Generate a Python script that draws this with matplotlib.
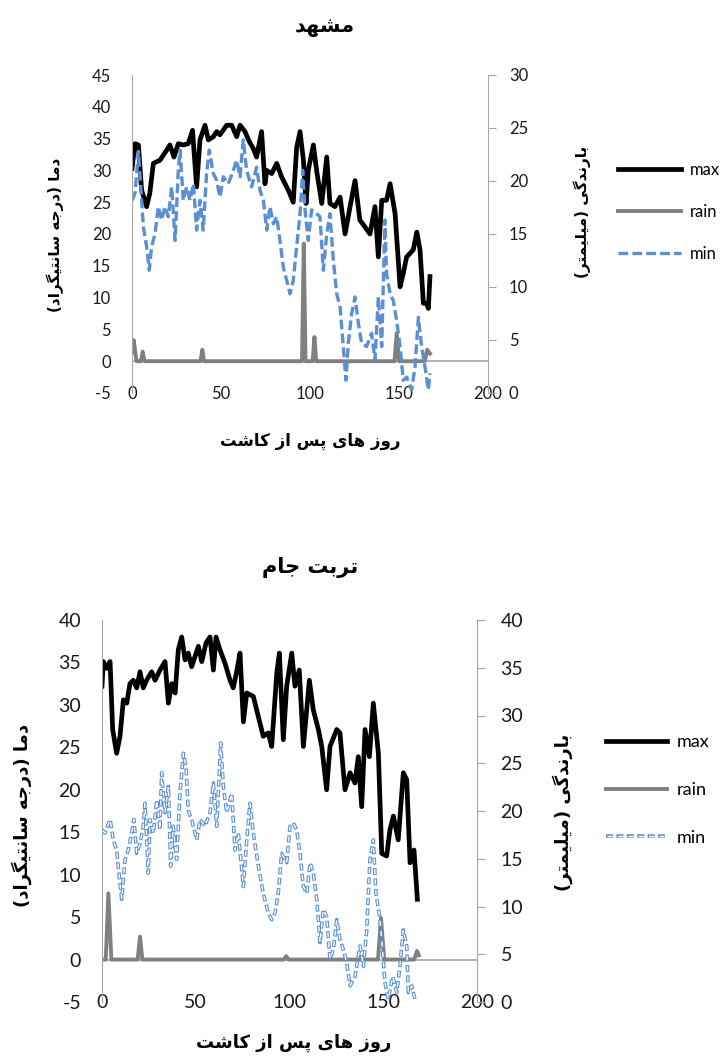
import matplotlib.pyplot as plt
from matplotlib.legend_handler import HandlerTuple

plt.rcParams['lines.scale_dashes'] = False
plt.rcParams['axes.unicode_minus'] = False

# ---- data ----
# Mashhad
mashhad_max_day = [0, 1.7, 3.6, 5.4, 8.2, 10, 12, 15.7, 19.5, 21.3, 23.6, 26, 28.8, 31.6, 34, 36.3, 38.2, 41,
                   42.9, 45.7, 47.6, 49.4, 53.2, 56, 58.8, 60.7, 63.5, 65.4, 68.2, 70, 72.8, 74.7, 75.7, 78.5,
                   81.3, 84, 87.8, 90.6, 92.5, 94.4, 96.3, 97.8, 99, 101.9, 103.7, 106.6, 109.4, 111.2, 114,
                   116.9, 119.7, 122.5, 125.3, 128, 130.9, 133.7, 136.5, 138.4, 140.3, 143, 145, 147.8, 150.6,
                   152.4, 154.3, 158, 160, 161.8, 163.7, 165.5, 166.5, 167.4]
mashhad_max = [30.3, 34.2, 34, 26.9, 24.3, 26.4, 31.1, 31.6, 33.2, 34, 32.1, 34.2, 34, 34.2, 36.3, 27.4, 34.8, 37.1,
               34.8, 35.3, 36.1, 35.6, 37.1, 37.1, 35.3, 37.1, 36.1, 34.8, 33.4, 32.1, 36.1, 27.9, 30, 29.5,
               31.1, 29, 26.9, 25, 33.6, 36.1, 31.6, 24.8, 30, 34, 30, 24.8, 32.1, 24.8, 24.3,
               25.8, 20, 24.3, 28.4, 22.2, 21.1, 20, 24.3, 16.4, 25.3, 25.3, 27.9, 23.2, 11.7,
               13.8, 16.4, 17.5, 20.3, 17.5, 9.1, 9.1, 8.3, 13.3]
mashhad_min_day = [0, 1.7, 3.6, 5.4, 6.4, 8.2, 9.7, 11, 12.9, 14.8, 16.7, 18.5, 20.4, 22.3, 24.2, 26, 27, 28.8,
                   30.7, 32.6, 34.5, 36.3, 38.2, 40, 41.9, 43.4, 45.7, 47.6, 49.4, 51.3, 54.1, 56.9, 58.8, 60.7,
                   62.5, 64.4, 67.2, 70, 71.9, 73.8, 75.7, 77.5, 79.4, 81.3, 83.1, 85, 86.9, 88.8, 90.6, 92.5,
                   94.4, 95.9, 97.2, 99, 100.9, 103.7, 105.6, 107.5, 109.4, 111.2, 113.1, 115, 116.9, 118.7,
                   120.2, 121.5, 123.4, 125.3, 127.2, 129, 131.8, 134.6, 136.5, 138.4, 140.3, 142.1, 143, 145,
                   146.8, 148.7, 150.6, 152.4, 154.3, 157.1, 159, 160.9, 162.7, 164.6, 166.5, 167.4]
mashhad_min = [25.3, 26.4, 33.0, 25.3, 21.1, 18, 14.3, 18, 20, 24.3, 22.2, 24.3, 22.7, 27.4, 19, 30, 33.2, 25.3,
               27.4, 25.3, 27.9, 20.6, 25.3, 20.6, 29.5, 33.2, 29.5, 28.4, 25.8, 29, 27.9, 30, 31.6, 29,
               34.8, 30, 27.4, 30.5, 26.9, 25.3, 20.6, 24.3, 21.6, 22.7, 19, 14.8, 12.7, 10.6, 12.7, 18,
               23.2, 30, 23.8, 19, 23.8, 23.2, 22.7, 14.3, 20, 23.2, 15.9, 10.6, 8.5, 2.3,
               -3, 2.8, 7.5, 10.1, 5.9, 2.8, 2.3, 4.4, 0.2, 10.1, 2.3, 22.2, 13.8, 10.6,
               9.5, 6.4, 2.3, -3, -2.5, -4.5, -0.9, 6.9, 2.3, -0.9, -4.5, -1.9]
mashhad_rain_day = [0, 1, 2.5, 5, 6, 7, 38.5, 39.5, 40.5, 95.5, 96.5, 97.5, 101.5, 102.5, 103.5,
                    147.5, 148.7, 150, 164.5, 165.8, 167.4]
mashhad_rain = [1.5, 3.3, 0, 0, 1.5, 0, 0, 1.8, 0, 0, 18.5, 0, 0, 3.8, 0,
                0, 4.4, 0, 0, 1.8, 1.2]

# Torbat-e Jam
torbat_max_day = [0, 0.7, 2.5, 4.3, 5.7, 7.8, 9.6, 11.4, 13.2, 14.9, 16.7, 18.5, 20.3, 22, 23.8, 26.5, 28.3,
                  30.9, 33.6, 35.4, 37.2, 39, 40.7, 42.5, 44.3, 46, 47.8, 49.6, 51.4, 53.2, 55.5, 57.6, 59.4,
                  60.8, 62.9, 65.6, 68.3, 70, 71.8, 73.6, 75.4, 77.2, 80.7, 83.4, 86, 88.7, 90.5, 93.2, 94.6,
                  96.7, 98.5, 101.2, 102.9, 105.2, 107.4, 110.6, 112.7, 115.4, 117.2, 119.8, 121.6, 125.2,
                  126.9, 129.6, 132.3, 134.9, 136.7, 138.5, 140.3, 142.6, 144.7, 147.4, 149.2, 151.8, 153.6,
                  155.4, 158, 160.7, 162.5, 164.3, 166.4, 168.2]
torbat_max = [32.2, 35.1, 34.3, 35.1, 27.1, 24.3, 26.3, 30.6, 30.2, 32.5, 32.9, 32, 33.9, 32, 32.9, 33.9, 32.9,
              34.1, 35.1, 30.2, 32.5, 31.4, 36.5, 38, 35.3, 36.1, 34.5, 35.7, 36.9, 35.1, 37.3, 38, 34.1,
              38, 36.5, 34.9, 32.9, 32, 33.9, 36.1, 28, 31.4, 31, 28.6, 26.3, 26.7, 25.1, 33.7, 36.1,
              25.9, 32.2, 36.1, 32.2, 34.1, 25.1, 32.9, 29.4, 27.1, 25.1, 20, 25.1, 27.1,
              26.7, 20, 22, 20.8, 23.9, 18, 27.1, 23.9, 30.2, 24.3, 12.5, 12.2, 15.3,
              16.9, 14.1, 22, 21.2, 11.4, 12.9, 7.1]
torbat_min_day = [0, 1.6, 4.3, 6, 7.8, 9.2, 10.5, 12.3, 14, 15.8, 17, 18.5, 20.3, 22, 22.9, 24.7, 25.6, 27.4,
                  29.2, 30.9, 31.8, 33.6, 35.4, 36.6, 38, 39.8, 41.6, 43.4, 44.8, 46, 47.8, 50.5, 52.3, 54.9,
                  57.6, 59.4, 61.2, 63.3, 64.7, 66.5, 69.2, 70.9, 72.7, 75.4, 77.2, 78.9, 80.7, 83.4, 86,
                  88.7, 90.5, 92.3, 94, 95.8, 98.5, 100.3, 102, 103.8, 105.6, 107.4, 109.2, 111, 112.7, 114.5,
                  116.3, 118, 119.8, 121.6, 123.4, 125.2, 126.9, 128.7, 130.5, 132.3, 134.9, 137.6, 139.4,
                  141.2, 142.9, 144.7, 146.1, 148.3, 150, 150.9, 152.7, 155, 157.2, 158.9, 160.7, 162.5,
                  163.4, 165.2, 166.9]
torbat_min = [15.3, 14.9, 16.5, 14.1, 12.9, 9.8, 7.1, 11.8, 12.9, 14.9, 16.5, 12.5, 13.7, 15.7, 18.4, 10.2, 16.5,
              14.9, 18.8, 15.3, 22, 17.3, 20.4, 11, 15.7, 11.8, 19.6, 24.3, 22.7, 17.6, 16.5, 14.1, 16.5,
              15.7, 17.3, 20.8, 15.7, 25.5, 20.4, 17.3, 19.6, 12.9, 14.9, 8.6, 14.1, 18.4, 14.9, 11, 7.8,
              5.5, 4.7, 5.5, 7.8, 12.5, 11.4, 15.7, 16.1, 15.3, 12.5, 8.6, 7.8, 11.4, 10.2, 7.1,
              2, 5.9, 5.1, 0, 1.2, 4.7, 2.4, 1.2, -0.4, -3.1, -2, 1.6, -0.8,
              3.5, 11.8, 14.1, 7.8, 4.7, 0, -2.7, -4.7, -2, -3.9, -0.8, 3.5, 1.6,
              -3.9, -3.1, -4.7]
torbat_rain_day = [0, 2, 3.4, 5, 19, 20.3, 21.5, 97, 98.2, 99.5, 147.2, 148.8, 150.5, 166.5, 168, 169]
torbat_rain = [0, 0, 7.8, 0, 0, 2.7, 0, 0, 0.4, 0, 0, 4.9, 0, 0, 1.0, 0.5]

# ---- minimal Arabic/Persian shaping (no text-layout engine in matplotlib) ----
FORMS = {
    'ا': ('\uFE8D', '\uFE8E', None, None), 'ب': ('\uFE8F', '\uFE90', '\uFE91', '\uFE92'),
    'ت': ('\uFE95', '\uFE96', '\uFE97', '\uFE98'), 'ج': ('\uFE9D', '\uFE9E', '\uFE9F', '\uFEA0'),
    'د': ('\uFEA9', '\uFEAA', None, None), 'ر': ('\uFEAD', '\uFEAE', None, None),
    'ز': ('\uFEAF', '\uFEB0', None, None), 'س': ('\uFEB1', '\uFEB2', '\uFEB3', '\uFEB4'),
    'ش': ('\uFEB5', '\uFEB6', '\uFEB7', '\uFEB8'), 'ل': ('\uFEDD', '\uFEDE', '\uFEDF', '\uFEE0'),
    'م': ('\uFEE1', '\uFEE2', '\uFEE3', '\uFEE4'), 'ن': ('\uFEE5', '\uFEE6', '\uFEE7', '\uFEE8'),
    'ه': ('\uFEE9', '\uFEEA', '\uFEEB', '\uFEEC'), 'و': ('\uFEED', '\uFEEE', None, None),
    'پ': ('\uFB56', '\uFB57', '\uFB58', '\uFB59'), 'ک': ('\uFB8E', '\uFB8F', '\uFB90', '\uFB91'),
    'گ': ('\uFB92', '\uFB93', '\uFB94', '\uFB95'), 'ی': ('\uFBFC', '\uFBFD', '\uFBFE', '\uFBFF'),
}
MIRROR = {'(': ')', ')': '('}


def fa(s):
    out = []
    for i, ch in enumerate(s):
        if ch not in FORMS:
            out.append(MIRROR.get(ch, ch))
            continue
        prev = s[i - 1] if i > 0 else ''
        nxt = s[i + 1] if i + 1 < len(s) else ''
        jp = prev in FORMS and FORMS[prev][2] is not None
        jn = FORMS[ch][2] is not None and nxt in FORMS
        iso, fin, ini, med = FORMS[ch]
        out.append(med if jp and jn else fin if jp else ini if jn else iso)
    return ''.join(reversed(out))


W, H = 721, 1056
fig = plt.figure(figsize=(W / 100, H / 100), dpi=100)

BLUE = '#5a8fd6'
GREY = '#808080'
AXC = '#a6a6a6'
TXT = '#1a1a1a'
NUM = 'Lato'
FA = ['DejaVu Sans']


def panel(rect, mx_d, mx, mn_d, mn, rn_d, rn, ylim, rlim, fs, xpad, ypad, rpad, hollow):
    l, t, r, b = rect
    ax = fig.add_axes([l / W, 1 - b / H, (r - l) / W, (b - t) / H])
    ax.plot(mx_d, mx, color='black', lw=3.4, solid_joinstyle='round', label='max')
    ax.plot(rn_d, rn, color=GREY, lw=2.8, label='rain')
    if hollow:
        lb, = ax.plot(mn_d, mn, color=BLUE, lw=2.6, dashes=(5, 2.5))
        lw_, = ax.plot(mn_d, mn, color='white', lw=1.0, linestyle=(6.8, (3.6, 3.9)))
        mn_handle = (lb, lw_)
    else:
        lb, = ax.plot(mn_d, mn, color=BLUE, lw=2.4, dashes=(7, 3))
        mn_handle = lb
    ax.axhline(0, color=AXC, lw=1.2, zorder=0)
    ax.set_xlim(0, 200)
    ax.set_ylim(*ylim)
    ax.set_xticks(range(0, 201, 50))
    ax.set_yticks(range(ylim[0], ylim[1] + 1, 5))
    for s in ('top', 'right', 'bottom'):
        ax.spines[s].set_visible(False)
    ax.spines['left'].set_color(AXC)
    ax.tick_params(axis='x', length=0, pad=xpad, labelsize=fs, labelcolor=TXT)
    ax.tick_params(axis='y', length=0, pad=ypad, labelsize=fs, labelcolor=TXT)
    for lab in ax.get_xticklabels() + ax.get_yticklabels():
        lab.set_fontfamily(NUM)

    ax2 = ax.twinx()
    ax2.set_ylim(*rlim)
    ax2.set_yticks(range(rlim[0], rlim[1] + 1, 5))
    for s in ('top', 'left', 'bottom'):
        ax2.spines[s].set_visible(False)
    ax2.spines['right'].set_color(AXC)
    ax2.tick_params(axis='y', length=6, color=AXC, pad=rpad, labelsize=fs, labelcolor=TXT)
    for lab in ax2.get_yticklabels():
        lab.set_fontfamily(NUM)
    handles = [ax.lines[0], ax.lines[1], mn_handle]
    return ax, handles


# ---- Mashhad ----
ax1, h1 = panel((132, 75, 488, 393), mashhad_max_day, mashhad_max, mashhad_min_day, mashhad_min,
                mashhad_rain_day, mashhad_rain, (-5, 45), (0, 30), 12, -5, 15, 9, False)
fig.text(325 / W, 1 - 27 / H, fa('مشهد'), ha='center', va='center', fontsize=15, fontweight='bold', family=FA)
fig.text(55 / W, 1 - 235 / H, fa('دما (درجه سانتیگراد)'), rotation=90, ha='center', va='center',
         fontsize=11, fontweight='bold', family=FA)
fig.text(582 / W, 1 - 212 / H, fa('بارندگی (میلیمتر)'), rotation=90, ha='center', va='center',
         fontsize=11, fontweight='bold', family=FA)
fig.text(310 / W, 1 - 441 / H, fa('روز های پس از کاشت'), ha='center', va='center',
         fontsize=12, fontweight='bold', family=FA)
fig.legend(h1, ['max', 'rain', 'min'], loc='center left', bbox_to_anchor=(618 / W, 1 - 212 / H),
           frameon=False, borderpad=0, borderaxespad=0, handlelength=3.8, handletextpad=0.5,
           labelspacing=1.55, prop={'family': NUM, 'size': 12})

# ---- Torbat-e Jam ----
ax2, h2 = panel((102, 620, 477, 1002), torbat_max_day, torbat_max, torbat_min_day, torbat_min,
                torbat_rain_day, torbat_rain, (-5, 40), (0, 40), 14, -6, 15, 11, True)
fig.text(310 / W, 1 - 567 / H, fa('تربت جام'), ha='center', va='center', fontsize=15, fontweight='bold', family=FA)
fig.text(22 / W, 1 - 815 / H, fa('دما (درجه سانتیگراد)'), rotation=90, ha='center', va='center',
         fontsize=13, fontweight='bold', family=FA)
fig.text(563 / W, 1 - 812 / H, fa('بارندگی (میلیمتر)'), rotation=90, ha='center', va='center',
         fontsize=13, fontweight='bold', family=FA)
fig.text(294 / W, 1 - 1043 / H, fa('روز های پس از کاشت'), ha='center', va='center',
         fontsize=13, fontweight='bold', family=FA)
fig.legend(h2, ['max', 'rain', 'min'], loc='center left', bbox_to_anchor=(606 / W, 1 - 790 / H),
           frameon=False, borderpad=0, borderaxespad=0, handlelength=3.4, handletextpad=0.5,
           labelspacing=1.75, prop={'family': NUM, 'size': 13},
           handler_map={tuple: HandlerTuple(ndivide=1)})

fig.savefig('out.png', dpi=100)
